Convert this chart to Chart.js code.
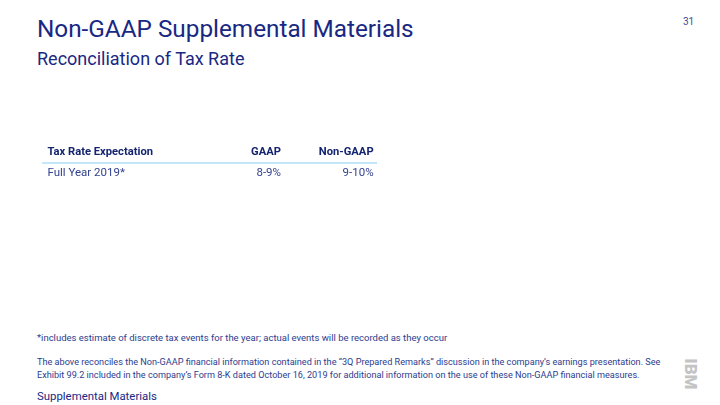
<!DOCTYPE html>
<html><head><meta charset="utf-8">
<script src="https://cdn.jsdelivr.net/npm/chart.js@4"></script>
<style>
html,body{margin:0;padding:0;background:#fff;}
body{width:720px;height:405px;position:relative;overflow:hidden;font-family:Roboto,"Noto Sans",sans-serif;color:#2a3a8f;}
.abs{position:absolute;white-space:nowrap;}
#title{left:37px;top:14px;font-size:24.3px;color:#182883;font-weight:400;}
#sub{left:37px;top:48px;font-size:18px;color:#182883;}
#pg{left:683px;top:16px;font-size:10px;color:#3b4a96;}
#foot{left:37px;top:332px;font-size:9.5px;color:#2d3d8e;}
#para{left:37px;top:356px;font-size:9.15px;line-height:13px;color:#2d3d8e;}
#supp{left:37px;top:389px;font-size:11.4px;color:#182883;}
#logo{left:675px;top:364px;font-size:17px;font-weight:900;color:#c4c4c4;transform:rotate(90deg);}
#wrap{position:absolute;left:37px;top:138px;width:347px;height:50px;}
</style></head>
<body>
<div class="abs" id="title">Non-GAAP Supplemental Materials</div>
<div class="abs" id="sub">Reconciliation of Tax Rate</div>
<div class="abs" id="pg">31</div>
<div id="wrap"><canvas id="c"></canvas></div>
<div class="abs" id="foot">*includes estimate of discrete tax events for the year; actual events will be recorded as they occur</div>
<div class="abs" id="para">The above reconciles the Non-GAAP financial information contained in the “3Q Prepared Remarks” discussion in the company’s earnings presentation. See<br>Exhibit 99.2 included in the company’s Form 8-K dated October 16, 2019 for additional information on the use of these Non-GAAP financial measures.</div>
<div class="abs" id="supp">Supplemental Materials</div>
<div class="abs" id="logo">IBM</div>
<script>
const headers = ['Tax Rate Expectation', 'GAAP', 'Non-GAAP'];
const rowLabels = ['Full Year 2019*'];
const gaapValues = ['8-9%'];
const nonGaapValues = ['9-10%'];

const tablePlugin = {
  id: 'tablePlugin',
  afterDraw(chart) {
    const ctx = chart.ctx;
    const x = chart.scales.x;
    const y = chart.scales.y;
    const colLeft = x.getPixelForValue(0.03);
    const colGaap = x.getPixelForValue(0.703);
    const colNon = x.getPixelForValue(0.97);
    ctx.save();
    const hy = y.getPixelForValue(0);
    ctx.font = 'bold 11.2px Roboto, "Noto Sans", sans-serif';
    ctx.fillStyle = '#14246e';
    ctx.textBaseline = 'middle';
    ctx.textAlign = 'left';
    ctx.fillText(headers[0], colLeft, hy);
    ctx.textAlign = 'right';
    ctx.fillText(headers[1], colGaap, hy);
    ctx.fillText(headers[2], colNon, hy);
    const ly = y.getPixelForValue(0.5);
    ctx.strokeStyle = '#b0defa';
    ctx.lineWidth = 1.5;
    ctx.beginPath();
    ctx.moveTo(x.getPixelForValue(0.015), ly);
    ctx.lineTo(x.getPixelForValue(0.98), ly);
    ctx.stroke();
    ctx.font = '11.5px Roboto, "Noto Sans", sans-serif';
    ctx.fillStyle = '#33438f';
    rowLabels.forEach((lab, i) => {
      const ry = y.getPixelForValue(i + 1);
      ctx.textAlign = 'left';
      ctx.fillText(lab, colLeft, ry);
      ctx.textAlign = 'right';
      ctx.fillText(gaapValues[i], colGaap, ry);
      ctx.fillText(nonGaapValues[i], colNon, ry);
    });
    ctx.restore();
  }
};

new Chart(document.getElementById('c'), {
  type: 'scatter',
  data: { datasets: [{ data: [], pointRadius: 0 }] },
  options: {
    responsive: true,
    maintainAspectRatio: false,
    animation: false,
    layout: { padding: 0 },
    plugins: { legend: { display: false }, tooltip: { enabled: false } },
    scales: {
      x: { type: 'linear', min: 0, max: 1, display: false },
      y: { type: 'linear', min: -0.7, max: rowLabels.length + 0.7, reverse: true, display: false }
    }
  },
  plugins: [tablePlugin]
});
</script>
</body></html>
